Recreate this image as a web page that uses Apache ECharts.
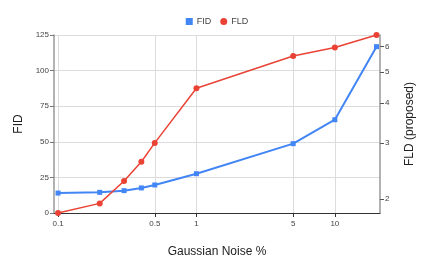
<!DOCTYPE html>
<html>
<head>
<meta charset="utf-8">
<script src="https://cdn.jsdelivr.net/npm/echarts@6/dist/echarts.min.js"></script>
<style>
html,body{margin:0;padding:0;background:#fff;}
#c{width:434px;height:271px;}
</style>
</head>
<body>
<div id="c"></div>
<script>
const noise = [0.1, 0.2, 0.3, 0.4, 0.5, 1, 5, 10, 20];
const fid = [14.0, 14.5, 15.7, 17.6, 19.7, 27.6, 48.7, 65.5, 116.8];
const fld = [1.81, 1.94, 2.28, 2.62, 3.0, 4.45, 5.61, 5.97, 6.53];
const xTicks = [0.1, 0.5, 1, 5, 10];
const fidTicks = [0, 25, 50, 75, 100, 125];
const fldTicks = [2, 3, 4, 5, 6];

const chart = echarts.init(document.getElementById('c'), null, {renderer: 'canvas'});
const lab = {fontSize: 8, color: '#444', fontFamily: 'Arial, Liberation Sans, sans-serif'};
const nameStyle = {fontSize: 12, color: '#222', fontFamily: 'Arial, Liberation Sans, sans-serif'};
chart.setOption({
  animation: false,
  legend: {
    top: 12, left: 'center', itemGap: 9, itemWidth: 7, itemHeight: 7,
    textStyle: {fontSize: 9, color: '#444', fontFamily: 'Arial, Liberation Sans, sans-serif', padding: [0, 0, 0, -1]},
    data: [{name: 'FID', icon: 'rect'}, {name: 'FLD', icon: 'circle'}]
  },
  grid: {left: 54, right: 54, top: 35, bottom: 58},
  xAxis: {
    type: 'log', min: 0.0935, max: 21.2,
    name: 'Gaussian Noise %', nameLocation: 'middle', nameGap: 33, nameTextStyle: nameStyle,
    axisLine: {show: true, lineStyle: {color: '#333', width: 1}},
    axisTick: {show: true, length: 4, customValues: xTicks, lineStyle: {color: '#333'}},
    axisLabel: Object.assign({customValues: xTicks, margin: 7}, lab),
    splitLine: {show: true, lineStyle: {color: '#dcdcdc'}},
    minorTick: {show: false}, minorSplitLine: {show: false}
  },
  yAxis: [{
    type: 'value', min: 0, max: 125, interval: 25, position: 'left',
    name: 'FID', nameLocation: 'middle', nameGap: 24, nameRotate: 90, nameTextStyle: nameStyle,
    axisLine: {show: true, lineStyle: {color: '#999', width: 1.5}},
    axisTick: {show: true, length: 4, lineStyle: {color: '#777'}},
    axisLabel: Object.assign({margin: 5, customValues: fidTicks}, lab),
    splitLine: {show: true, lineStyle: {color: '#dcdcdc'}}
  }, {
    type: 'log', min: 1.81, max: 6.53, position: 'right',
    name: 'FLD (proposed)', nameLocation: 'middle', nameGap: 24, nameRotate: 90, nameTextStyle: nameStyle,
    axisLine: {show: true, lineStyle: {color: '#999', width: 1.5}},
    axisTick: {show: true, length: 4, customValues: fldTicks, lineStyle: {color: '#555'}},
    axisLabel: Object.assign({margin: 5, customValues: fldTicks}, lab),
    splitLine: {show: false}, minorTick: {show: false}
  }],
  series: [{
    name: 'FID', type: 'line', yAxisIndex: 0,
    data: noise.map((x, i) => [x, fid[i]]),
    symbol: 'rect', symbolSize: 5,
    itemStyle: {color: '#4285F4'}, lineStyle: {color: '#4285F4', width: 2}
  }, {
    name: 'FLD', type: 'line', yAxisIndex: 1,
    data: noise.map((x, i) => [x, fld[i]]),
    symbol: 'circle', symbolSize: 6,
    itemStyle: {color: '#EA4335'}, lineStyle: {color: '#EA4335', width: 1.5}
  }]
});
</script>
</body>
</html>
